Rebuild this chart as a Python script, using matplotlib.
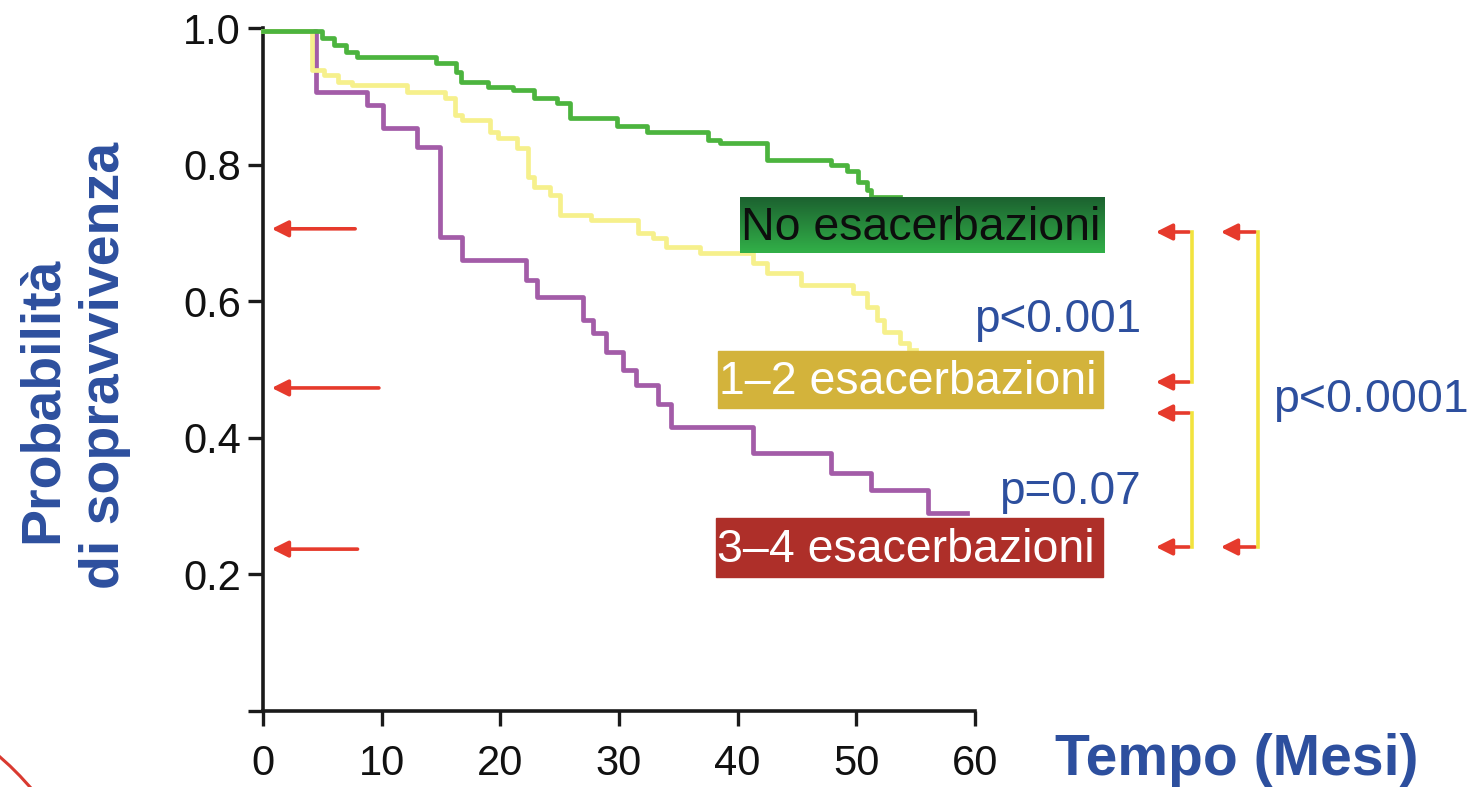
import matplotlib
matplotlib.use("Agg")
import matplotlib.pyplot as plt
import numpy as np
from matplotlib.patches import Rectangle, FancyArrowPatch

# ---------------- data ----------------
times_no = [0, 5.0, 6.0, 7.0, 7.9, 14.6, 16.3, 16.7, 19.0, 21.1, 22.8, 24.8, 25.9, 29.8,
            32.4, 37.5, 38.5, 42.5, 47.9, 49.2, 50.1, 50.9, 51.2, 53.7]
surv_no = [0.995, 0.985, 0.975, 0.965, 0.958, 0.949, 0.936, 0.921, 0.914, 0.909, 0.897,
           0.890, 0.868, 0.857, 0.848, 0.836, 0.832, 0.807, 0.800, 0.790, 0.775, 0.763,
           0.753, 0.753]

times_12 = [0, 4.1, 5.1, 6.3, 7.5, 12.1, 15.3, 16.2, 16.8, 19.1, 19.8, 21.4, 22.3, 22.8,
            24.2, 25.0, 27.6, 31.6, 32.9, 34.0, 36.8, 41.3, 42.5, 45.3, 49.7, 50.9, 51.7,
            52.3, 53.7, 54.4, 55.0]
surv_12 = [0.995, 0.938, 0.931, 0.921, 0.917, 0.907, 0.897, 0.873, 0.865, 0.848, 0.839,
           0.824, 0.782, 0.767, 0.755, 0.726, 0.719, 0.700, 0.692, 0.679, 0.670, 0.656,
           0.641, 0.624, 0.612, 0.592, 0.572, 0.555, 0.539, 0.529, 0.529]

times_34 = [0, 4.5, 8.8, 10.1, 13.0, 14.9, 16.8, 22.2, 23.1, 27.0, 27.8, 28.9, 30.3, 31.4,
            33.3, 34.4, 41.3, 47.9, 51.2, 56.0, 59.3]
surv_34 = [0.995, 0.906, 0.887, 0.853, 0.826, 0.694, 0.660, 0.631, 0.606, 0.572, 0.553,
           0.526, 0.499, 0.478, 0.449, 0.416, 0.378, 0.348, 0.324, 0.290, 0.290]

x_ticks = [0, 10, 20, 30, 40, 50, 60]
y_ticks = [0.0, 0.2, 0.4, 0.6, 0.8, 1.0]
y_ticklabels = ["", "0.2", "0.4", "0.6", "0.8", "1.0"]

group_labels = ["No esacerbazioni", "1\u20132 esacerbazioni", "3\u20134 esacerbazioni"]
arrow_levels = [0.706, 0.473, 0.237]
arrow_starts = [8.0, 10.0, 8.2]
p_labels = ["p<0.001", "p=0.07", "p<0.0001"]

# ---------------- figure ----------------
W, H = 1473, 787
fig = plt.figure(figsize=(W / 100, H / 100), dpi=100)
plt.rcParams['font.family'] = ['Liberation Sans', 'DejaVu Sans']

def fx(px):
    return px / W

def fy(py):
    return 1 - py / H

ax = fig.add_axes([fx(263), fy(711), (975 - 263) / W, (711 - 28) / H])
ax.set_xlim(0, 60)
ax.set_ylim(0, 1.0)
for s in ["top", "right"]:
    ax.spines[s].set_visible(False)
for s in ["left", "bottom"]:
    ax.spines[s].set_linewidth(2.6)
    ax.spines[s].set_color("#1a1a1a")
ax.set_xticks(x_ticks)
ax.set_yticks(y_ticks)
ax.set_yticklabels(y_ticklabels)
ax.tick_params(axis="both", length=11, width=2.4, color="#1a1a1a",
               labelsize=30, labelcolor="#111111")
ax.tick_params(axis="y", pad=5)
ax.tick_params(axis="x", pad=13)
ax.patch.set_alpha(0)

purple = "#a35ca8"
yellow = "#f6f08c"
green = "#4cb43e"
ax.step(times_34, surv_34, where="post", color=purple, lw=3.4, zorder=2, clip_on=False)
ax.step(times_12, surv_12, where="post", color=yellow, lw=3.4, zorder=3, clip_on=False)
ax.step(times_no, surv_no, where="post", color=green, lw=3.4, zorder=4, clip_on=False)

red = "#e63a2c"
for lvl, st in zip(arrow_levels, arrow_starts):
    ax.add_patch(FancyArrowPatch((st, lvl), (0.5, lvl), arrowstyle="-|>,head_length=0.7,head_width=0.35",
                                 mutation_scale=14, color=red, lw=2.6, zorder=5))

# ---------------- overlay (pixel coords) ----------------
ov = fig.add_axes([0, 0, 1, 1], zorder=10)
ov.set_xlim(0, W)
ov.set_ylim(H, 0)
ov.axis("off")
ov.patch.set_alpha(0)

# green gradient box
top_c = np.array([0x1c, 0x62, 0x30]) / 255
bot_c = np.array([0x32, 0xb0, 0x48]) / 255
grad = np.linspace(0, 1, 64)[:, None, None]
img = top_c[None, None, :] * (1 - grad) + bot_c[None, None, :] * grad
ov.imshow(img, extent=(740, 1105, 253, 197), origin="upper", aspect="auto", zorder=1)
ov.add_patch(Rectangle((718, 351), 385, 57, color="#d3b33b", zorder=1))
ov.add_patch(Rectangle((716, 518), 387, 59, color="#ae2f29", zorder=1))
ov.set_xlim(0, W)
ov.set_ylim(H, 0)

ov.text(741, 228, group_labels[0], fontsize=33.5, color="#0d0d0d", va="center", ha="left", zorder=2)
ov.text(719, 382, group_labels[1], fontsize=33.5, color="white", va="center", ha="left", zorder=2)
ov.text(717, 550, group_labels[2], fontsize=33.5, color="white", va="center", ha="left", zorder=2)

blue = "#2d4f9e"
ov.text(1141, 320, p_labels[0], fontsize=33, color=blue, va="center", ha="right")
ov.text(1141, 492, p_labels[1], fontsize=33, color=blue, va="center", ha="right")
ov.text(1273, 400, p_labels[2], fontsize=33.5, color=blue, va="center", ha="left")

# brackets
ylw = "#f2e33e"
ov.plot([1192, 1192], [232, 382], color=ylw, lw=2.6)
ov.plot([1192, 1192], [413, 547], color=ylw, lw=2.6)
ov.plot([1258, 1258], [232, 547], color=ylw, lw=2.6)
for (x0, x1, yy) in [(1192, 1153, 232), (1192, 1153, 382), (1192, 1153, 413), (1192, 1153, 547),
                     (1258, 1218, 232), (1258, 1218, 547)]:
    ov.add_patch(FancyArrowPatch((x0, yy), (x1, yy), arrowstyle="-|>,head_length=0.7,head_width=0.35",
                                 mutation_scale=14, color=red, lw=2.6))

# axis titles
ov.text(43, 400, "Probabilit\u00e0", rotation=90, fontsize=40, fontweight="bold",
        color=blue, ha="center", va="center")
ov.text(105, 365, "di sopravvivenza", rotation=90, fontsize=40, fontweight="bold",
        color=blue, ha="center", va="center")
ov.text(1055, 760, "Tempo (Mesi)", fontsize=41, fontweight="bold", color=blue, ha="left", va="center")

# decorative corner arc
ov.plot([0, 10, 20, 30], [757, 766, 776, 787], color="#d93a30", lw=2.2)

fig.savefig("out.png", dpi=100)
